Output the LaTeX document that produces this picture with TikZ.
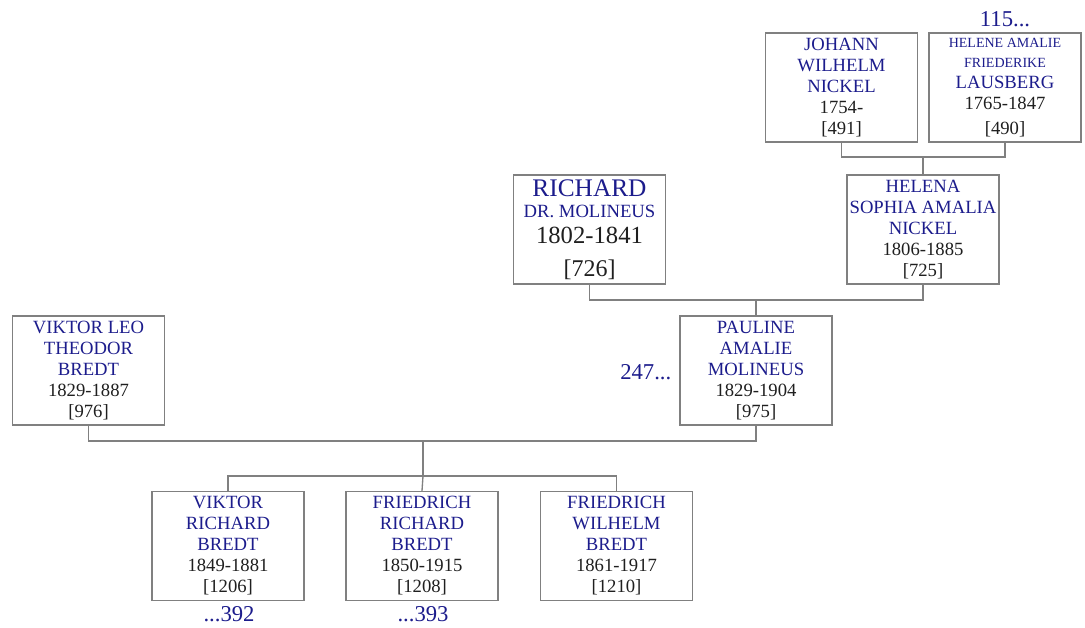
\documentclass[tikz,border=0pt]{standalone}
\usepackage{fontspec}
\setmainfont{Liberation Serif}
\definecolor{namecol}{RGB}{28,28,140}
\definecolor{boxcol}{RGB}{128,128,128}
\newcommand{\nm}[1]{\textcolor{namecol}{#1}}
\newcommand{\nmsmall}[1]{{\fontsize{10.5}{12}\selectfont\textcolor{namecol}{#1}}}

\begin{document}
\begin{tikzpicture}[x=0.75pt,y=-0.75pt,
	every node/.style={font=\fontsize{14}{15.75}\selectfont},
	person/.style={draw=boxcol,line width=1pt,minimum width=114pt,minimum height=81.75pt,inner sep=0pt,align=center,text=black!88},
	link/.style={draw=boxcol,line width=1pt},
	more/.style={text=namecol,font=\fontsize{17}{17}\selectfont}]
	\useasboundingbox (0,0) rectangle (1085,628);
	\node[person] (johann) at (841.5,87.5) {\nm{JOHANN}\\\nm{WILHELM}\\\nm{NICKEL}\\1754-\\{[491]}};
	\node[person] (helene) at (1005,87.5) {\nmsmall{HELENE AMALIE}\\[-1pt]\nmsmall{FRIEDERIKE}\\\nm{LAUSBERG}\\1765-1847\\[3pt]{[490]}};
	\node[more] (helenemore) at (1005,19) {115...};
	\node[person] (richard) at (589.5,229.5) {\nm{\fontsize{19}{21}\selectfont RICHARD}\\\nm{DR. MOLINEUS}\\[4pt]{\fontsize{18.5}{21}\selectfont 1802-1841}\\[9pt]{\fontsize{18}{21}\selectfont [726]}};
	\node[person] (helena) at (923,229.5) {\nm{HELENA}\\\nm{SOPHIA AMALIA}\\\nm{NICKEL}\\1806-1885\\{[725]}};
	\node[person] (viktorleo) at (88.5,370.5) {\nm{VIKTOR LEO}\\\nm{THEODOR}\\\nm{BREDT}\\1829-1887\\{[976]}};
	\node[person] (pauline) at (756,370.5) {\nm{PAULINE}\\\nm{AMALIE}\\\nm{MOLINEUS}\\1829-1904\\{[975]}};
	\node[more,anchor=east] (paulinemore) at (676,372) {247...};
	\node[person] (viktor) at (228,546) {\nm{VIKTOR}\\\nm{RICHARD}\\\nm{BREDT}\\1849-1881\\{[1206]}};
	\node[person] (friedrichr) at (422,546) {\nm{FRIEDRICH}\\\nm{RICHARD}\\\nm{BREDT}\\1850-1915\\{[1208]}};
	\node[person] (friedrichw) at (616.5,546) {\nm{FRIEDRICH}\\\nm{WILHELM}\\\nm{BREDT}\\1861-1917\\{[1210]}};
	\node[more] (viktormore) at (229,614) {...392};
	\node[more] (friedrichrmore) at (423,614) {...393};
	\coordinate (jh) at (923,157);
	\coordinate (rh) at (756,300);
	\coordinate (vp) at (423,441);
	\coordinate (kids) at (423,476);
	\draw[link] (johann.south) |- (jh) -| (helene.south);
	\draw[link] (jh) -- (helena.north);
	\draw[link] (richard.south) |- (rh) -| (helena.south);
	\draw[link] (rh) -- (pauline.north);
	\draw[link] (viktorleo.south) |- (vp) -| (pauline.south);
	\draw[link] (vp) -- (kids);
	\draw[link] (viktor.north) |- (kids) -| (friedrichw.north);
	\draw[link] (kids) -- (friedrichr.north);
\end{tikzpicture}
\end{document}
